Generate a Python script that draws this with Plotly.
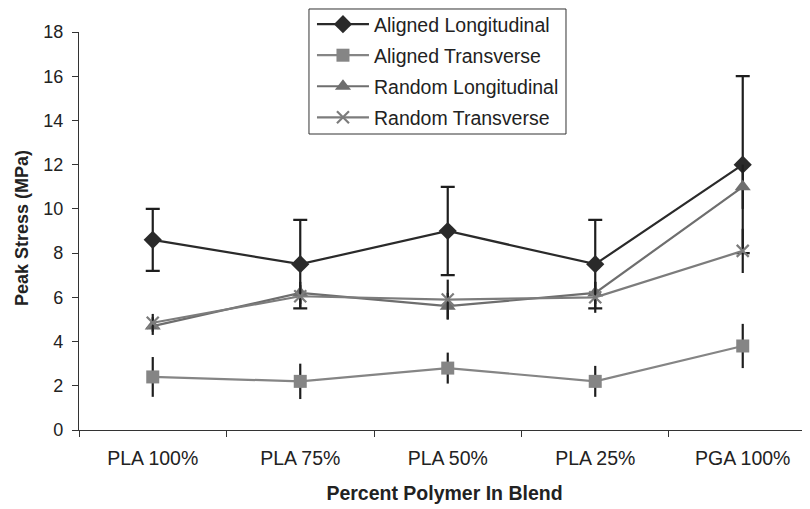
import plotly.graph_objects as go

categories = ["PLA 100%", "PLA 75%", "PLA 50%", "PLA 25%", "PGA 100%"]

aligned_long = [8.6, 7.5, 9.0, 7.5, 12.0]
aligned_long_err = [1.4, 2.0, 2.0, 2.0, 4.0]

aligned_trans = [2.4, 2.2, 2.8, 2.2, 3.8]
aligned_trans_err = [0.9, 0.8, 0.7, 0.7, 1.0]

random_long = [4.7, 6.2, 5.6, 6.2, 11.0]
random_long_err = [0.4, 0.5, 0.6, 0.5, 1.0]

random_trans = [4.85, 6.05, 5.9, 6.0, 8.1]
random_trans_err = [0.4, 0.5, 0.9, 0.7, 1.0]

y_ticks = [0, 2, 4, 6, 8, 10, 12, 14, 16, 18]

FONT = "Liberation Sans, Arial, Helvetica, sans-serif"
TXT = "#222222"
ERR = "#1e1e1e"

fig = go.Figure()

series = [
    ("Aligned Longitudinal", aligned_long, aligned_long_err, "#2a2a2a", "diamond", 14, 7),
    ("Aligned Transverse", aligned_trans, aligned_trans_err, "#858585", "square", 13, 0),
    ("Random Longitudinal", random_long, random_long_err, "#6e6e6e", "triangle-up", 14, 0),
    ("Random Transverse", random_trans, random_trans_err, "#7c7c7c", "x-thin", 12, 0),
]

for i, (name, vals, errs, color, sym, size, capw) in enumerate(series):
    marker = dict(symbol=sym, size=size, color=color)
    if sym == "x-thin":
        marker["line"] = dict(color=color, width=2.2)
    fig.add_trace(go.Scatter(
        x=categories, y=vals, name=name, mode="lines+markers",
        line=dict(color=color, width=2.2),
        marker=marker,
        error_y=dict(type="data", array=errs, visible=True, color=ERR,
                     thickness=2.2, width=capw),
        legendgroup=f"g{i}",
    ))

# legend frame (page body has an 8px margin, so the figure is 8px smaller)
fig.add_shape(type="rect", xref="paper", yref="paper",
              x0=0.3146, x1=0.6662, y0=0.7437, y1=1.0578,
              line=dict(color="#333333", width=1), fillcolor="white",
              layer="above")

# y-axis title as rotated text
fig.add_annotation(text="<b>Peak Stress (MPa)</b>", xref="paper", yref="paper",
                   x=-0.078, y=0.5075, xanchor="center", yanchor="middle",
                   textangle=-90, showarrow=False,
                   font=dict(family=FONT, size=18, color=TXT))

fig.update_layout(
    width=802, height=501,
    margin=dict(l=71, r=0, t=24, b=79, autoexpand=False),
    paper_bgcolor="white", plot_bgcolor="white",
    font=dict(family=FONT, size=18, color=TXT),
    showlegend=True,
    legend=dict(
        x=0.3187, y=1.0679, xanchor="left", yanchor="top",
        bgcolor="rgba(0,0,0,0)", borderwidth=0,
        font=dict(family=FONT, size=19.5, color=TXT),
        traceorder="grouped", tracegroupgap=2.7, itemwidth=52,
    ),
    xaxis=dict(
        range=[-0.5, 4.456], showgrid=False, zeroline=False, automargin=False,
        showline=True, linecolor="#333333", linewidth=1.2,
        ticks="outside", ticklen=6, tickcolor="#333333", tickwidth=1.2,
        tickson="boundaries", ticklabelstandoff=10,
        tickfont=dict(family=FONT, size=19.5, color=TXT),
        title=dict(text="<b>Percent Polymer In Blend</b>", standoff=18,
                   font=dict(family=FONT, size=19.5, color=TXT)),
    ),
    yaxis=dict(
        range=[0, 18], tickvals=y_ticks, showgrid=False, zeroline=False,
        automargin=False,
        showline=True, linecolor="#333333", linewidth=1.2,
        ticks="outside", ticklen=6, tickcolor="#333333", tickwidth=1.2,
        ticklabelstandoff=5,
        tickfont=dict(family=FONT, size=18, color=TXT),
    ),
)

fig.write_html("out.html")
